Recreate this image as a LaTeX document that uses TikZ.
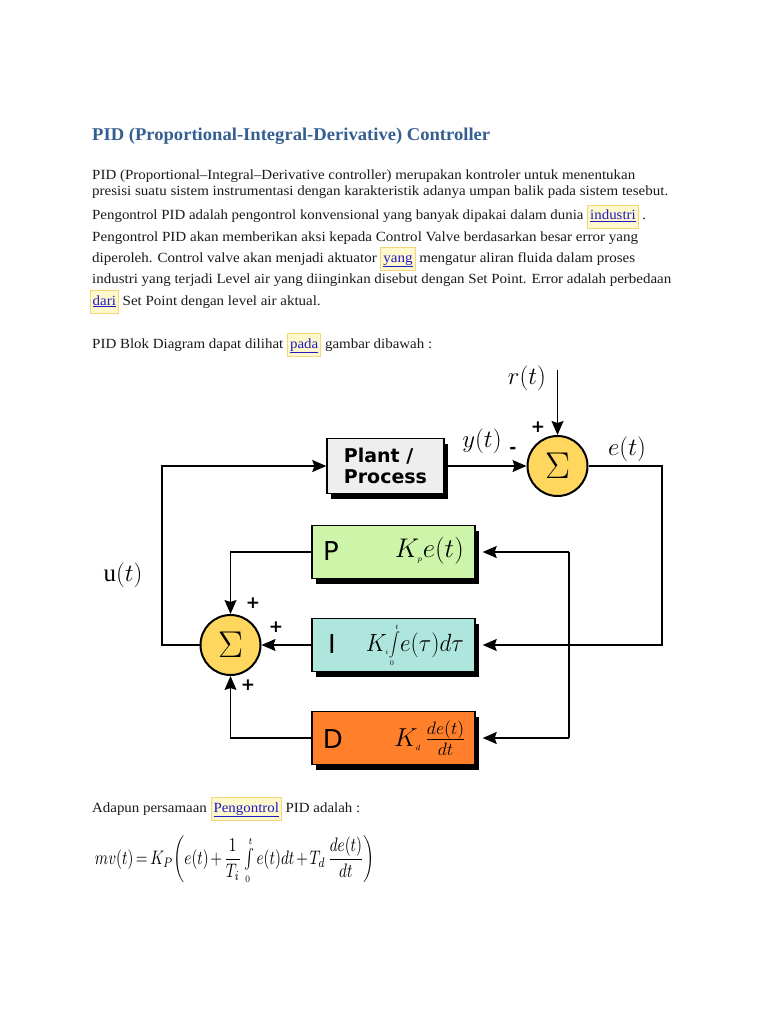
\documentclass[tikz,border=0pt]{standalone}
\usepackage{fontspec}
\setmainfont{Liberation Serif}
\newfontfamily\djs{DejaVu Sans}
\usepackage{graphicx}
\usetikzlibrary{arrows.meta,shadows}
\definecolor{titleblue}{HTML}{365F91}
\definecolor{lkc}{HTML}{1A1AC8}
\definecolor{lkbg}{HTML}{FFF8CC}
\definecolor{lkbd}{HTML}{F0D878}
\definecolor{pgreen}{HTML}{CCF5AA}
\definecolor{icyan}{HTML}{AEE6DE}
\definecolor{dorange}{HTML}{FF7F2A}
\definecolor{sumyel}{HTML}{FFD75E}
\definecolor{plantgray}{HTML}{EEEEEE}
\definecolor{bodytext}{HTML}{1A1A1A}
\newsavebox\fitbox
\newlength\fitlen
\newcommand\fitto[2]{\sbox\fitbox{#2}\setlength\fitlen{\wd\fitbox}\pgfmathsetmacro\fitfac{#1/\fitlen}\scalebox{\fitfac}[1]{\usebox\fitbox}}
\setlength\fboxsep{2pt}
\setlength\fboxrule{0.8pt}
\newcommand\lnk[1]{\fcolorbox{lkbd}{lkbg}{\rule[-6pt]{0pt}{18pt}\textcolor{lkc}{\underline{#1}}}}
\newcommand\tsub[1]{\mbox{\fontsize{6}{6}\selectfont$#1$}}
\tikzset{
 body/.style={anchor=base west, inner sep=0pt, font=\fontsize{14}{16}\selectfont, text=bodytext},
 blk/.style={draw=black, line width=1.4pt, minimum width=163pt, minimum height=53pt, inner sep=0pt},
 shad/.style={drop shadow={shadow xshift=4pt, shadow yshift=-5pt, fill=black, opacity=1}},
 sumc/.style={circle, draw=black, line width=2pt, fill=sumyel, minimum size=60pt, inner sep=0pt, font=\fontsize{24.88}{25}\selectfont},
 wire/.style={line width=1.3pt},
 arr/.style={wire, -{Stealth[length=14pt,width=12pt,inset=2pt]}},
 lbl/.style={inner sep=0pt, font=\fontsize{24.88}{25}\selectfont},
 sgn/.style={inner sep=0pt, font=\djs\bfseries\fontsize{17}{17}\selectfont},
 letter/.style={inner sep=0pt, font=\djs\fontsize{26}{26}\selectfont},
 frm/.style={inner sep=0pt, anchor=east, font=\fontsize{20.74}{22}\selectfont},
}
\begin{document}
\begin{tikzpicture}[x=1pt,y=-1pt]
\path[use as bounding box, fill=white] (0,0) rectangle (768,1024);
% text
\node[body, font=\fontsize{18}{20}\selectfont\bfseries, text=titleblue] (title) at (92,141) {\fitto{398}{PID (Proportional-Integral-Derivative) Controller}};
\node[body] (l1) at (92,180) {\fitto{543}{PID (Proportional--Integral--Derivative controller) merupakan kontroler untuk menentukan}};
\node[body] (l2) at (92,196) {\fitto{576}{presisi suatu sistem instrumentasi dengan karakteristik adanya umpan balik pada sistem tesebut.}};
\node[body] (l3) at (92,220) {\fitto{554}{Pengontrol PID adalah pengontrol konvensional yang banyak dipakai dalam dunia \lnk{industri} .}};
\node[body] (l4) at (92,241) {\fitto{546}{Pengontrol PID akan memberikan aksi kepada Control Valve berdasarkan besar error yang}};
\node[body] (l5) at (92,262) {\fitto{543}{diperoleh. Control valve akan menjadi aktuator \lnk{yang} mengatur aliran fluida dalam proses}};
\node[body] (l6) at (92,283) {\fitto{579}{industri yang terjadi Level air yang diinginkan disebut dengan Set Point. Error adalah perbedaan}};
\node[body] (l7) at (89.5,305) {\fitto{231}{\lnk{dari} Set Point dengan level air aktual.}};
\node[body] (blok) at (92,348) {\fitto{340}{PID Blok Diagram dapat dilihat \lnk{pada} gambar dibawah :}};
\node[body] (adapun) at (92,812) {\fitto{268}{Adapun persamaan \lnk{Pengontrol} PID adalah :}};
\node[inner sep=0pt] (eq) at (235,860) {\resizebox*{280pt}{48pt}{\medmuskip=2mu\thickmuskip=3mu$\displaystyle mv(t)=K_P\!\left(e(t)+\frac{1}{T_i}\textstyle\int\limits_{\scriptscriptstyle 0}^{\scriptscriptstyle t}\displaystyle e(t)dt+T_d\,\frac{de(t)}{dt}\right)$}};
% diagram blocks
\node[blk, shad, fill=plantgray, align=left, font=\djs\bfseries\fontsize{19}{21}\selectfont, minimum width=117pt, minimum height=55pt] (plant) at (385.5,466) {Plant /\\Process};
\node[sumc] (s1) at (557.5,466) {\scalebox{1.5}{$\Sigma$}};
\node[sumc] (s2) at (230.5,645) {\scalebox{1.5}{$\Sigma$}};
\node[blk, shad, fill=pgreen] (P) at (393.5,552) {};
\node[blk, shad, fill=icyan] (I) at (393.5,645) {};
\node[blk, shad, fill=dorange] (D) at (393.5,738) {};
\node[letter] (Pl) at (331,551) {P};
\node[letter] (Il) at (332,644) {I};
\node[letter] (Dl) at (333,739) {D};
\node[frm] (Pf) at (464,551) {\scalebox{1.3}{$K_{\tsub{p}}e(t)$}};
\node[frm] (If) at (464,645) {\scalebox{1.12}[1.2]{$K_{\tsub{i}}\!\displaystyle\int\limits_{\tsub{0}}^{\tsub{t}}\! e(\tau)d\tau$}};
\node[frm] (Df) at (466,738) {\scalebox{1.25}{$K_{\tsub{d}}\,\frac{de(t)}{dt}$}};
% coordinates
\coordinate (rin) at (557.5,370);
\coordinate (eR) at (662,466);
\coordinate (eB) at (662,645);
\coordinate (jt) at (569,552);
\coordinate (jb) at (569,738);
\coordinate (uL) at (162,645);
% connectors
\draw[arr] (rin) -- (s1.north);
\draw[arr] (plant.east) -- (s1.west);
\draw[arr, shorten >=7pt] (s1.east) -- (eR) -- (eB) -- (I.east);
\draw[wire] (jt) -- (jb);
\draw[arr, shorten >=7pt] (jt) -- (P.east);
\draw[arr, shorten >=7pt] (jb) -- (D.east);
\draw[arr] (P.west) -| (s2.north);
\draw[arr] (I.west) -- (s2.east);
\draw[arr] (D.west) -| (s2.south);
\draw[arr] (s2.west) -- (uL) |- (plant.west);
% labels
\node[lbl] (rl) at (527,378) {$r(t)$};
\node[lbl] (yl) at (482,441) {$y(t)$};
\node[lbl] (el) at (627,449) {$e(t)$};
\node[lbl] (ul) at (123,575) {$\mathrm{u}(t)$};
\node[sgn] (sg1) at (538,427) {+};
\node[sgn] (sg2) at (513,450) {-};
\node[sgn] (sg3) at (253,603) {+};
\node[sgn] (sg4) at (276,627) {+};
\node[sgn] (sg5) at (248,685) {+};
\end{tikzpicture}
\end{document}
